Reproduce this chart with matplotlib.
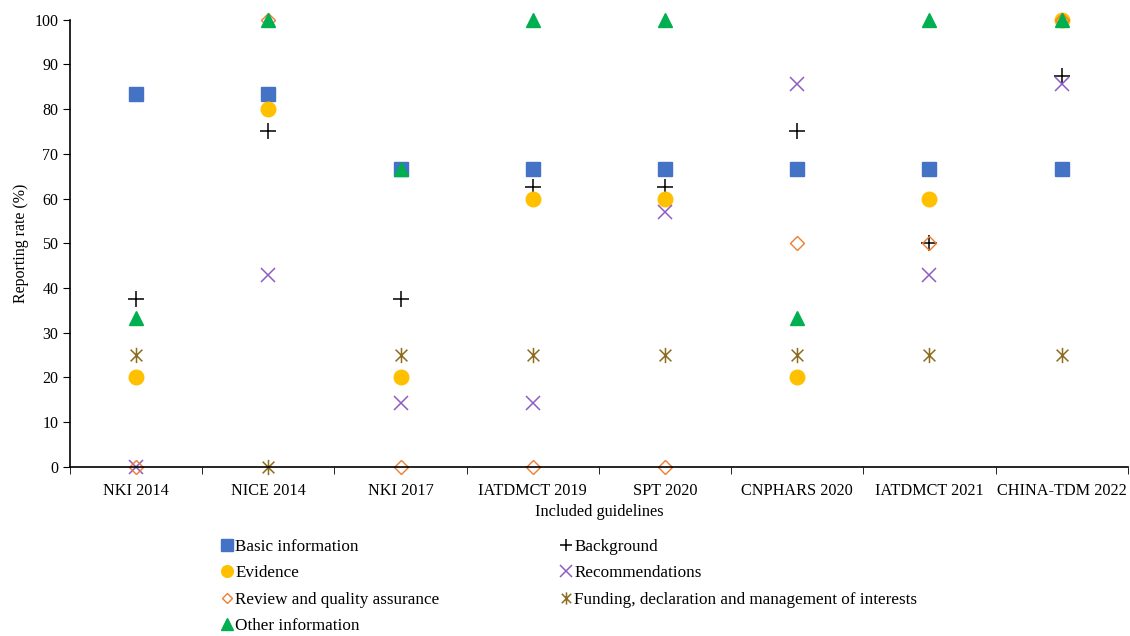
import matplotlib
matplotlib.use('Agg')
import matplotlib.pyplot as plt
from matplotlib.path import Path
import numpy as np

plt.rcParams['font.family'] = ['Liberation Serif', 'DejaVu Serif']

guidelines = ['NKI 2014', 'NICE 2014', 'NKI 2017', 'IATDMCT 2019', 'SPT 2020',
              'CNPHARS 2020', 'IATDMCT 2021', 'CHINA-TDM 2022']

basic_info = [83.3, 83.3, 66.7, 66.7, 66.7, 66.7, 66.7, 66.7]
background = [37.5, 75.0, 37.5, 62.5, 62.5, 75.0, 50.0, 87.5]
evidence = [20, 80, 20, 60, 60, 20, 60, 100]
recommendations = [0, 42.9, 14.3, 14.3, 57.1, 85.7, 42.9, 85.7]
review = [0, 100, 0, 0, 0, 50, 50, 100]
funding = [25, 0, 25, 25, 25, 25, 25, 25]
other_info = [33.3, 100, 66.7, 100, 100, 33.3, 100, 100]

# 米字形标记 (x + 竖线)
star = Path([(-1, -1), (1, 1), (-1, 1), (1, -1), (0, -1.3), (0, 1.3)],
            [Path.MOVETO, Path.LINETO, Path.MOVETO, Path.LINETO, Path.MOVETO, Path.LINETO])

fig = plt.figure(figsize=(11.3, 6.36), dpi=100)
ax = fig.add_axes([0.062, 0.266, 0.936, 0.703])
x = np.arange(len(guidelines))

kw = dict(ls='none', clip_on=False)
h_basic, = ax.plot(x, basic_info, 's', color='#4472C4', ms=10, label='Basic information', **kw)
h_back, = ax.plot(x, background, '+', color='black', ms=11, mew=1.1, label='Background', **kw)
h_evi, = ax.plot(x, evidence, 'o', color='#FFC000', ms=10.5, label='Evidence', **kw)
h_rec, = ax.plot(x, recommendations, 'x', color='#8E5CC4', ms=10, mew=1.1, label='Recommendations', **kw)
h_rev, = ax.plot(x, review, 'D', mfc='none', mec='#ED7D31', ms=7, mew=1.0, label='Review and quality assurance', **kw)
h_fund, = ax.plot(x, funding, marker=star, color='#8C6D1F', ms=11, mew=1.1,
                  label='Funding, declaration and management of interests', **kw)
h_oth, = ax.plot(x, other_info, '^', color='#00B050', ms=10.5, label='Other information', **kw)

ax.set_xlim(-0.5, len(guidelines) - 0.5)
ax.set_ylim(0, 100)
ax.set_yticks(range(0, 101, 10))
ax.set_xticks(x)
ax.set_xticklabels(guidelines, fontsize=11.7)
ax.set_xticks(np.arange(-0.5, len(guidelines)), minor=True)
ax.tick_params(axis='x', which='major', length=0, pad=12)
ax.tick_params(axis='x', which='minor', length=5, direction='out')
ax.tick_params(axis='y', labelsize=11.5, length=5)
for s in ['top', 'right']:
    ax.spines[s].set_visible(False)
ax.spines['left'].set_linewidth(1.2)
ax.spines['bottom'].set_linewidth(1.2)
ax.set_ylabel('Reporting rate (%)', fontsize=11.5)
ax.set_xlabel('Included guidelines', fontsize=11.7, labelpad=3)

handles = [h_basic, h_evi, h_rev, h_oth, h_back, h_rec, h_fund]
leg = fig.legend(handles=handles, labels=[h.get_label() for h in handles], ncol=2,
                 loc='upper left', bbox_to_anchor=(0.19, 0.163), frameon=False,
                 fontsize=12.3, markerscale=0.8, handlelength=0.6, handletextpad=0.2,
                 columnspacing=7.1, labelspacing=0.6, borderaxespad=0)

fig.savefig('out.png', dpi=100)
